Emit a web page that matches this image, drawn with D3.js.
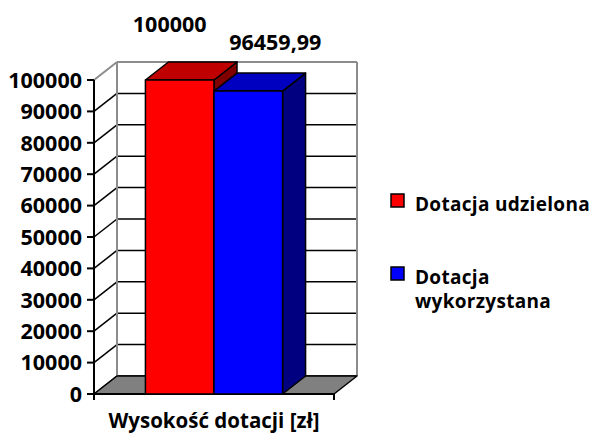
<!DOCTYPE html>
<html>
<head>
<meta charset="utf-8">
<script src="https://cdn.jsdelivr.net/npm/d3@7"></script>
<style>
  body { margin: 0; background: #fff; }
  text { font-family: "Open Sans", sans-serif; font-weight: bold; fill: #000; }
</style>
</head>
<body>
<svg id="chart" width="591" height="433"></svg>
<script>
// dane wykresu
var seriesNames = ["Dotacja udzielona", "Dotacja wykorzystana"];
var seriesValues = [100000, 96459.99];
var valueLabels = ["100000", "96459,99"];
var categoryLabel = "Wysokość dotacji [zł]";
var yTicks = [0, 10000, 20000, 30000, 40000, 50000, 60000, 70000, 80000, 90000, 100000];

var colors = [
  { front: "#ff0000", top: "#c00000", side: "#800000" },
  { front: "#0000ff", top: "#0000c0", side: "#000080" }
];

var svg = d3.select("#chart");

var left = 94, right = 334, bottom = 394, topY = 80;
var dx = 23, dy = -18; // glebokosc 3D

var y = d3.scaleLinear().domain([0, 100000]).range([bottom, topY]);
var x = d3.scaleBand().domain(seriesNames).range([left, right])
          .paddingInner(0).paddingOuter(0.75);

// tylna sciana
svg.append("rect")
  .attr("x", left + dx).attr("y", topY + dy)
  .attr("width", right - left).attr("height", bottom - topY)
  .attr("fill", "#fff");

// linie siatki na tylnej scianie i lewej scianie
yTicks.forEach(function(t) {
  var yy = y(t);
  var isTop = t === 100000;
  svg.append("line")
    .attr("x1", left + dx).attr("x2", right + dx)
    .attr("y1", yy + dy).attr("y2", yy + dy)
    .attr("stroke", isTop ? "#8c8c8c" : "#000").attr("stroke-width", isTop ? 2 : 1.5);
  svg.append("line")
    .attr("x1", left).attr("x2", left + dx)
    .attr("y1", yy).attr("y2", yy + dy)
    .attr("stroke", isTop ? "#8c8c8c" : "#000").attr("stroke-width", isTop ? 2 : 1.5);
});

// krawedzie tylnej sciany
svg.append("line")
  .attr("x1", left + dx).attr("x2", left + dx)
  .attr("y1", topY + dy).attr("y2", bottom + dy)
  .attr("stroke", "#8c8c8c").attr("stroke-width", 2);
svg.append("line")
  .attr("x1", right + dx).attr("x2", right + dx)
  .attr("y1", topY + dy).attr("y2", bottom + dy)
  .attr("stroke", "#8c8c8c").attr("stroke-width", 2);

// podloga
svg.append("polygon")
  .attr("points", [[left, bottom], [right, bottom], [right + dx, bottom + dy], [left + dx, bottom + dy]].join(" "))
  .attr("fill", "#808080").attr("stroke", "#000").attr("stroke-width", 1.5)
  .attr("stroke-linejoin", "round");

// os Y
svg.append("line")
  .attr("x1", left).attr("x2", left).attr("y1", topY).attr("y2", bottom)
  .attr("stroke", "#000").attr("stroke-width", 2);
yTicks.forEach(function(t) {
  svg.append("line")
    .attr("x1", left - 7).attr("x2", left).attr("y1", y(t)).attr("y2", y(t))
    .attr("stroke", "#000").attr("stroke-width", 2);
  svg.append("text")
    .attr("x", left - 12).attr("y", y(t)).attr("dy", "0.36em")
    .attr("text-anchor", "end").attr("font-size", 21.5)
    .text(t);
});

// os X
svg.append("line")
  .attr("x1", left).attr("x2", right).attr("y1", bottom).attr("y2", bottom)
  .attr("stroke", "#000").attr("stroke-width", 2);
[left, right].forEach(function(xx) {
  svg.append("line")
    .attr("x1", xx).attr("x2", xx).attr("y1", bottom).attr("y2", bottom + 6)
    .attr("stroke", "#000").attr("stroke-width", 2);
});
svg.append("text")
  .attr("x", 214).attr("y", 428)
  .attr("text-anchor", "middle").attr("font-size", 20.5)
  .text(categoryLabel);

// slupki 3D
seriesNames.forEach(function(name, i) {
  var x0 = x(name), x1 = x(name) + x.bandwidth();
  var yv = y(seriesValues[i]);
  var c = colors[i];
  var g = svg.append("g").attr("stroke", "#000").attr("stroke-width", 1.5)
    .attr("stroke-linejoin", "round");
  g.append("polygon")
    .attr("points", [[x1, bottom], [x1 + dx, bottom + dy], [x1 + dx, yv + dy], [x1, yv]].join(" "))
    .attr("fill", c.side);
  g.append("polygon")
    .attr("points", [[x0, yv], [x1, yv], [x1 + dx, yv + dy], [x0 + dx, yv + dy]].join(" "))
    .attr("fill", c.top);
  g.append("rect")
    .attr("x", x0).attr("y", yv).attr("width", x1 - x0).attr("height", bottom - yv)
    .attr("fill", c.front);

  svg.append("text")
    .attr("x", (x0 + x1) / 2 + (i === 0 ? -10 : 27))
    .attr("y", yv + dy - (i === 0 ? 30 : 23))
    .attr("text-anchor", "middle").attr("font-size", 21.5)
    .text(valueLabels[i]);
});

// legenda
var legend = svg.append("g");
var legendY = [[211], [284, 308]];
var legendLines = [["Dotacja udzielona"], ["Dotacja", "wykorzystana"]];
seriesNames.forEach(function(name, i) {
  legend.append("rect")
    .attr("x", 391).attr("y", legendY[i][0] - 17).attr("width", 13).attr("height", 13)
    .attr("fill", colors[i].front).attr("stroke", "#000").attr("stroke-width", 1.5);
  legendLines[i].forEach(function(line, j) {
    legend.append("text")
      .attr("x", 415).attr("y", legendY[i][j])
      .attr("font-size", 19).attr("letter-spacing", 0.3)
      .text(line);
  });
});
</script>
</body>
</html>
